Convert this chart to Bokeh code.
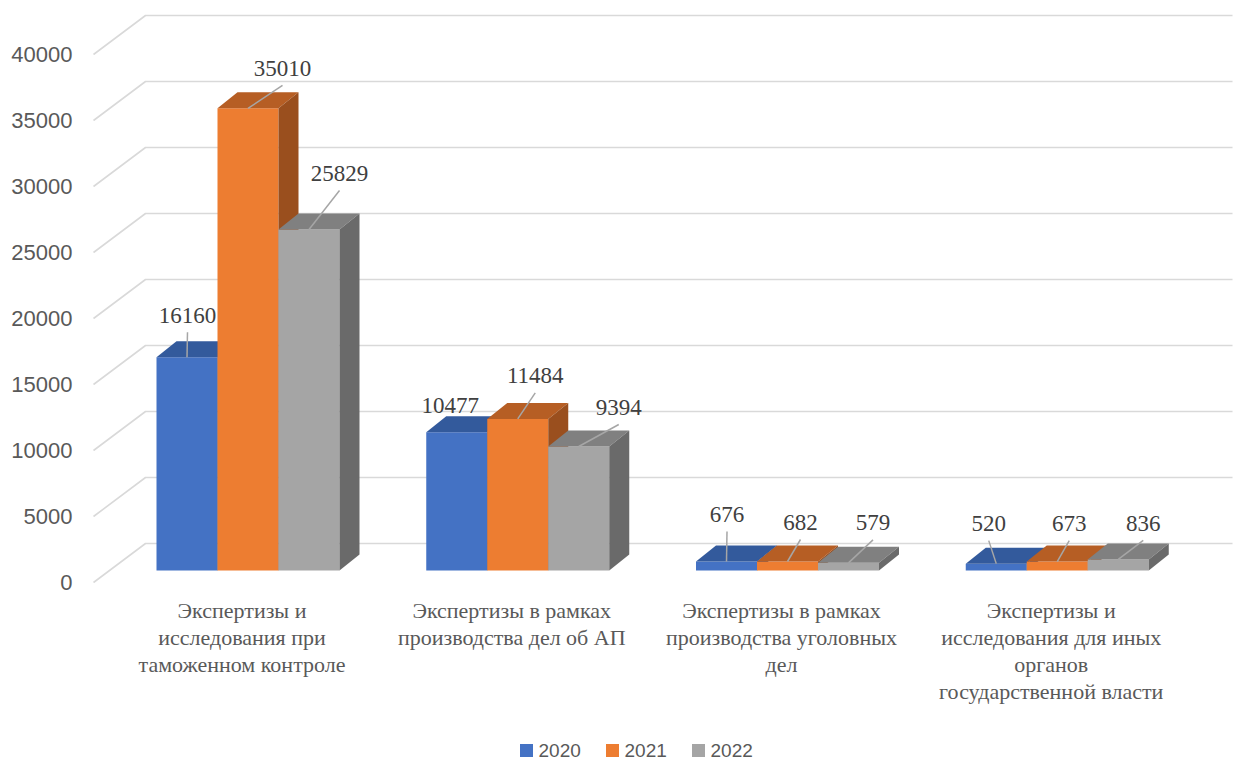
from bokeh.plotting import figure
from bokeh.models import Range1d
from bokeh.core.properties import value
from bokeh.embed import file_html
from bokeh.resources import INLINE

# ---------------- data ----------------
categories = [
    "Экспертизы и\nисследования при\nтаможенном контроле",
    "Экспертизы в рамках\nпроизводства дел об АП",
    "Экспертизы в рамках\nпроизводства уголовных\nдел",
    "Экспертизы и\nисследования для иных\nорганов\nгосударственной власти",
]
years = ["2020", "2021", "2022"]
v2020 = [16160, 10477, 676, 520]
v2021 = [35010, 11484, 682, 673]
v2022 = [25829, 9394, 579, 836]
y_ticks = [0, 5000, 10000, 15000, 20000, 25000, 30000, 35000, 40000]

series = [v2020, v2021, v2022]

# ---------------- styles / layout (pixels) ----------------
front_col = ["#4472C4", "#ED7D31", "#A5A5A5"]
top_col = ["#335A9C", "#B65E24", "#808080"]
side_col = ["#2B4C85", "#9A4F1E", "#6A6A6A"]

W, H = 1235, 760
K = 0.0132        # px per unit of value
SX = 269.75       # px per category
X0 = 247.5        # pixel x of category 0 centre
Y0 = 570.0        # pixel y of value 0 (bar front plane)
BAR_PX = 61.0
DEP_X, DEP_Y = 20.0, 16.0

# label offsets (px) from bar top-front centre
lab_dx = [[0.5, -6.5, 0.5, -7.5], [34.5, 17.5, 13, 12], [30.5, 40, 24.5, 25]]
lab_dy = [[42, 27, 47, 40], [40, 43, 39, 38], [56, 39, 40, 36]]


def dx(px):
    return px / SX


def dy(px):
    return px / K


def xpix(px):
    return (px - X0) / SX


def ypix(px):
    return (Y0 - px) * 1.0 / K


p = figure(width=W, height=H, output_backend="svg", toolbar_location=None,
           x_range=Range1d(xpix(0), xpix(W)),
           y_range=Range1d(-(H - Y0) / K, Y0 / K),
           min_border=0)
p.axis.visible = False
p.grid.visible = False
p.outline_line_color = None

BW = dx(BAR_PX)
DX, DY = dx(DEP_X), dy(DEP_Y)

# ---------------- gridlines (3D walls) ----------------
gx, gy = [], []
for t in y_ticks:
    yf = t - dy(12)
    yb = t + dy(27)
    gx.append([xpix(93), xpix(145), xpix(1232)])
    gy.append([yf, yb, yb])
p.multi_line(gx, gy, line_color="#D9D9D9", line_width=1.6)

# ---------------- bars ----------------
xs, ys, cols = [], [], []
for i in range(len(categories)):
    for s in range(3):
        v = series[s][i]
        xc = i + (s - 1) * BW
        x0, x1 = xc - BW / 2, xc + BW / 2
        xs.append([x0, x1, x1, x0]); ys.append([0, 0, v, v]); cols.append(front_col[s])
        xs.append([x0, x1, x1 + DX, x0 + DX]); ys.append([v, v, v + DY, v + DY]); cols.append(top_col[s])
        xs.append([x1, x1 + DX, x1 + DX, x1]); ys.append([0, DY, v + DY, v]); cols.append(side_col[s])
p.patches(xs, ys, fill_color=cols, line_color=None)

# ---------------- leader lines + labels ----------------
lx, ly, lt = [], [], []
lead_x, lead_y = [], []
for s in range(3):
    for i in range(len(categories)):
        v = series[s][i]
        xc = i + (s - 1) * BW
        tx = xc + dx(lab_dx[s][i])
        ty = v + dy(lab_dy[s][i])
        lx.append(tx); ly.append(ty); lt.append(str(v))
        if lab_dy[s][i] > 30:
            lead_x.append([tx, xc])
            lead_y.append([ty - dy(17), v])
p.multi_line(lead_x, lead_y, line_color="#A6A6A6", line_width=1.5)

p.text(x=lx, y=ly, text=lt, text_align="center", text_baseline="middle",
       text_font=value("Liberation Serif"), text_font_size="23px", text_color="#404040")

cx, cy, ct = [], [], []
for i, c in enumerate(categories):
    for j, line in enumerate(c.split("\n")):
        cx.append(i + dx(-6))
        cy.append(ypix(610 + 27 * j))
        ct.append(line)
p.text(x=cx, y=cy, text=ct, text_align="center", text_baseline="middle",
       text_font=value("Liberation Serif"), text_font_size="22px", text_color="#595959")

# ---------------- legend (squares as quads, no scatter) ----------------
leg_sq = [526, 612, 698]
p.quad(left=[xpix(v - 6.5) for v in leg_sq], right=[xpix(v + 6.5) for v in leg_sq],
       bottom=[ypix(756.5)] * 3, top=[ypix(743.5)] * 3,
       fill_color=front_col, line_color=None)

# ---------------- sans texts ----------------
p.text(x=[xpix(72)] * len(y_ticks), y=[t - dy(12) for t in y_ticks],
       text=[str(t) for t in y_ticks], text_align="right", text_baseline="middle",
       text_font=value("Liberation Sans"), text_font_size="22px", text_color="#595959")
p.text(x=[xpix(v + 12) for v in leg_sq], y=[ypix(750)] * 3, text=years,
       text_align="left", text_baseline="middle",
       text_font=value("Liberation Sans"), text_font_size="19px", text_color="#595959")

open("out.html", "w").write(file_html(p, INLINE))
